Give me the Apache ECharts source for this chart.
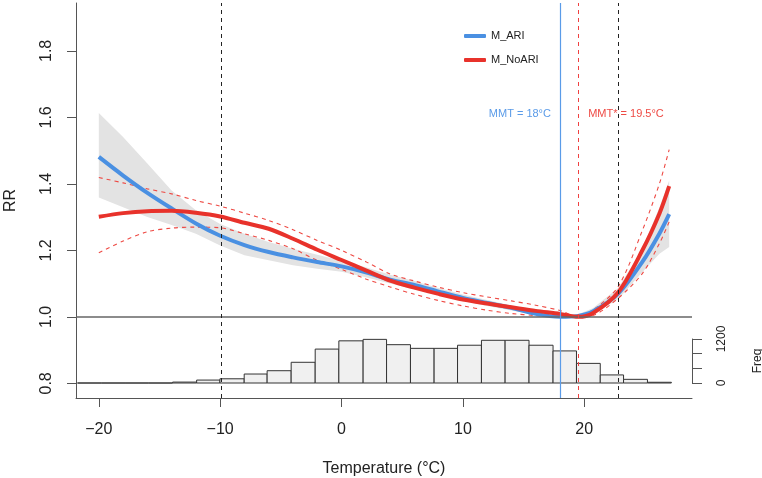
<!DOCTYPE html>
<html>
<head>
<meta charset="utf-8">
<title>RR by temperature</title>
<script src="https://cdn.jsdelivr.net/npm/echarts@6/dist/echarts.min.js"></script>
<style>
  html, body { margin: 0; padding: 0; background: #fff; }
  #chart { width: 762px; height: 478px; }
</style>
</head>
<body>
<div id="chart"></div>
<script>
// temperature points (°C) where the curves were read
const temps = [-20, -18, -16, -14, -12, -10, -8, -6, -4, -2, 0, 2, 4, 6, 8, 10, 12, 14, 16, 18, 19.5, 20.7, 22.8, 24.8, 26.2, 27]

// M_ARI curve and its CI (grey band)
const ariRR = [1.481, 1.425, 1.373, 1.326, 1.281, 1.244, 1.216, 1.195, 1.179, 1.165, 1.152, 1.134, 1.112, 1.096, 1.076, 1.057, 1.042, 1.027, 1.009, 1.0, 1.003, 1.016, 1.07, 1.166, 1.251, 1.309]
const ariLow = [1.359, 1.33, 1.30, 1.276, 1.25, 1.215, 1.185, 1.17, 1.155, 1.145, 1.136, 1.119, 1.1, 1.083, 1.065, 1.048, 1.033, 1.019, 1.006, 1.0, 0.999, 1.008, 1.053, 1.135, 1.19, 1.21]
const ariHigh = [1.613, 1.541, 1.461, 1.38, 1.321, 1.279, 1.25, 1.225, 1.205, 1.187, 1.169, 1.149, 1.127, 1.108, 1.087, 1.067, 1.051, 1.034, 1.012, 1.0, 1.008, 1.026, 1.087, 1.205, 1.33, 1.41]

// M_NoARI curve and its CI (red dashed)
const noAriRR = [1.301, 1.312, 1.318, 1.319, 1.313, 1.302, 1.283, 1.265, 1.235, 1.202, 1.171, 1.14, 1.109, 1.088, 1.069, 1.052, 1.04, 1.029, 1.018, 1.009, 1.0, 1.011, 1.074, 1.201, 1.311, 1.393]
const noAriLow = [1.193, 1.228, 1.256, 1.267, 1.27, 1.268, 1.25, 1.23, 1.205, 1.17, 1.143, 1.114, 1.09, 1.068, 1.049, 1.033, 1.02, 1.01, 1.004, 1.0, 1.0, 1.004, 1.056, 1.131, 1.221, 1.286]
const noAriHigh = [1.419, 1.403, 1.385, 1.37, 1.35, 1.333, 1.312, 1.29, 1.262, 1.23, 1.2, 1.166, 1.129, 1.108, 1.089, 1.073, 1.06, 1.048, 1.035, 1.019, 1.0, 1.02, 1.091, 1.261, 1.401, 1.503]

// temperature histogram
const histEdges = [-21.76, -19.8, -17.84, -15.88, -13.92, -11.94, -10.02, -8.02, -6.13, -4.15, -2.17, -0.22, 1.78, 3.71, 5.68, 7.63, 9.56, 11.53, 13.48, 15.45, 17.43, 19.36, 21.32, 23.24, 25.21, 27.18]
const histCounts = [0, 0, 0, 0, 25, 80, 115, 245, 335, 565, 925, 1150, 1190, 1045, 945, 945, 1030, 1165, 1165, 1030, 875, 535, 220, 100, 20]

const xTicks = [-20, -10, 0, 10, 20]
const yTicks = [0.8, 1.0, 1.2, 1.4, 1.6, 1.8]
const freqTicks = [0, 400, 800, 1200]
const freqLabels = [0, 1200]

// reference lines
const mmtAri = 18
const mmtNoAri = 19.5
const pctLines = [-9.9, 22.8]

const FONT = '"Liberation Sans", Arial, sans-serif'
const BLUE = '#4a90e2'
const RED = '#e8322b'

const pairs = (ys) => temps.map((t, i) => [t, ys[i]])

const chart = echarts.init(document.getElementById('chart'))
chart.setOption({
  animation: false,
  textStyle: { fontFamily: FONT },
  legend: {
    data: ['M_ARI', 'M_NoARI'],
    orient: 'vertical',
    left: 464,
    top: 29,
    padding: 0,
    itemWidth: 22,
    itemHeight: 4,
    itemGap: 10,
    icon: 'roundRect',
    textStyle: { fontSize: 11, color: '#222', lineHeight: 14, fontFamily: FONT }
  },
  grid: [
    { left: 76, right: 70, top: 3, height: 395, outerBoundsMode: 'none', containLabel: false },
    { left: 76, right: 70, top: 339, height: 44, outerBoundsMode: 'none', containLabel: false }
  ],
  xAxis: [
    {
      type: 'value',
      gridIndex: 0,
      min: -21.88,
      max: 28.88,
      name: 'Temperature (°C)',
      nameLocation: 'middle',
      nameGap: 63,
      nameTextStyle: { fontSize: 16, color: '#222', fontFamily: FONT },
      splitLine: { show: false },
      axisLine: { onZero: false, lineStyle: { color: '#555', width: 1 } },
      axisTick: { customValues: xTicks, length: 9, lineStyle: { color: '#555' } },
      axisLabel: {
        customValues: xTicks,
        margin: 24,
        fontSize: 16,
        color: '#222',
        fontFamily: FONT,
        formatter: (v) => String(v).replace('-', '\u2212')
      }
    },
    {
      type: 'value',
      gridIndex: 1,
      min: -21.88,
      max: 28.88,
      show: false
    }
  ],
  yAxis: [
    {
      type: 'value',
      gridIndex: 0,
      min: 0.756,
      max: 1.944,
      name: 'RR',
      nameLocation: 'middle',
      nameRotate: 90,
      nameGap: 57,
      nameTextStyle: { fontSize: 16, color: '#222', fontFamily: FONT },
      splitLine: { show: false },
      axisLine: { show: true, onZero: false, lineStyle: { color: '#555', width: 1 } },
      axisTick: { show: true, customValues: yTicks, length: 9, lineStyle: { color: '#555' } },
      axisLabel: {
        customValues: yTicks,
        rotate: 90,
        margin: 21,
        fontSize: 16,
        color: '#222',
        fontFamily: FONT,
        formatter: (v) => v.toFixed(1)
      }
    },
    {
      type: 'value',
      gridIndex: 1,
      position: 'right',
      min: 0,
      max: 1200,
      name: 'Freq',
      nameLocation: 'middle',
      nameRotate: 90,
      nameGap: 60,
      nameTextStyle: { fontSize: 12, color: '#222', fontFamily: FONT },
      splitLine: { show: false },
      axisLine: { show: true, onZero: false, lineStyle: { color: '#555', width: 1 } },
      axisTick: { show: true, customValues: freqTicks, length: 10, lineStyle: { color: '#555' } },
      axisLabel: {
        customValues: freqLabels,
        rotate: 90,
        margin: 24,
        fontSize: 12,
        color: '#222',
        fontFamily: FONT,
        formatter: (v) => String(v)
      }
    }
  ],
  series: [
    {
      name: 'Freq',
      type: 'custom',
      xAxisIndex: 1,
      yAxisIndex: 1,
      silent: true,
      encode: { x: [0, 1], y: 2 },
      data: histCounts.map((c, i) => [histEdges[i], histEdges[i + 1], c]),
      renderItem: (params, api) => {
        const p0 = api.coord([api.value(0), api.value(2)])
        const p1 = api.coord([api.value(1), 0])
        return {
          type: 'rect',
          shape: { x: p0[0], y: p0[1], width: p1[0] - p0[0], height: p1[1] - p0[1] },
          style: { fill: '#f0f0f0', stroke: '#333', lineWidth: 1 }
        }
      }
    },
    {
      // grey confidence band of M_ARI, one polygon through the upper then lower bound
      name: 'ariCI',
      type: 'custom',
      silent: true,
      encode: { x: 0, y: 1 },
      data: [[temps[0], ariHigh[0]]],
      renderItem: (params, api) => {
        const pts = temps.map((t, i) => api.coord([t, ariHigh[i]]))
        for (let i = temps.length - 1; i >= 0; i--) pts.push(api.coord([temps[i], ariLow[i]]))
        return { type: 'polygon', shape: { points: pts }, style: { fill: '#e3e3e3' } }
      }
    },
    {
      name: 'noAriHigh',
      type: 'line',
      smooth: 0.3,
      showSymbol: false,
      silent: true,
      lineStyle: { color: '#ee4a44', width: 1.1, type: [4, 4] },
      data: pairs(noAriHigh)
    },
    {
      name: 'noAriLow',
      type: 'line',
      smooth: 0.3,
      showSymbol: false,
      silent: true,
      lineStyle: { color: '#ee4a44', width: 1.1, type: [4, 4] },
      data: pairs(noAriLow)
    },
    {
      name: 'M_ARI',
      type: 'line',
      smooth: 0.3,
      showSymbol: false,
      color: BLUE,
      lineStyle: { color: BLUE, width: 4 },
      data: pairs(ariRR),
      markLine: {
        silent: true,
        symbol: ['none', 'none'],
        label: { show: false },
        data: [
          { yAxis: 1, lineStyle: { color: '#666', width: 1.5, type: 'solid' } },
          { xAxis: pctLines[0], lineStyle: { color: '#222', width: 1, type: [4, 4] } },
          { xAxis: pctLines[1], lineStyle: { color: '#222', width: 1, type: [4, 4] } },
          { xAxis: mmtAri, lineStyle: { color: '#5a9be8', width: 1.2, type: 'solid' } },
          { xAxis: mmtNoAri, lineStyle: { color: '#f04040', width: 1, type: [4, 4] } }
        ]
      },
      markPoint: {
        silent: true,
        symbol: 'circle',
        symbolSize: 0,
        data: [{
          coord: [mmtAri, 1.611],
          label: {
            show: true, position: 'left', distance: 9,
            formatter: 'MMT = 18°C', fontSize: 11, color: '#5a9be8', fontFamily: FONT
          }
        }]
      }
    },
    {
      name: 'M_NoARI',
      type: 'line',
      smooth: 0.3,
      showSymbol: false,
      color: RED,
      lineStyle: { color: RED, width: 4 },
      data: pairs(noAriRR),
      markPoint: {
        silent: true,
        symbol: 'circle',
        symbolSize: 0,
        data: [{
          coord: [mmtNoAri, 1.611],
          label: {
            show: true, position: 'right', distance: 10,
            formatter: 'MMT* = 19.5°C', fontSize: 11, color: '#ee4a44', fontFamily: FONT
          }
        }]
      }
    }
  ]
})
</script>
</body>
</html>
